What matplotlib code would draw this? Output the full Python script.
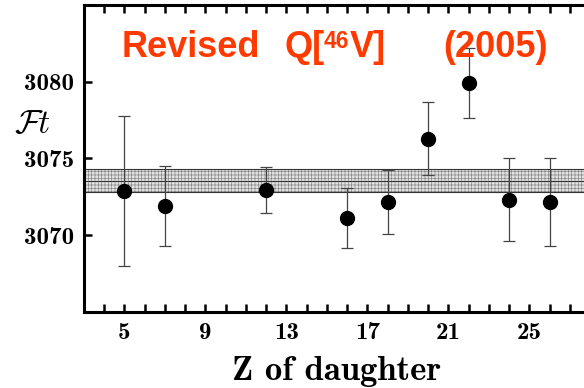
import numpy as np
import matplotlib
matplotlib.use('Agg')
import matplotlib.pyplot as plt

# Ft values per superallowed emitter, by Z of the daughter nucleus
z_daughter = [5, 7, 12, 16, 18, 20, 22, 24, 26]
ft_values = [3072.9, 3071.9, 3072.95, 3071.13, 3072.15, 3076.3, 3079.9, 3072.3, 3072.15]
ft_errors = [4.9, 2.6, 1.5, 1.95, 2.1, 2.37, 2.27, 2.7, 2.85]

# weighted average band
band_mean = 3073.56
band_low = 3072.82
band_high = 3074.33

x_ticks = [5, 9, 13, 17, 21, 25]
y_ticks = [3070, 3075, 3080]

plt.rcParams['hatch.linewidth'] = 0.4
plt.rcParams['hatch.color'] = '#7a7a7a'

fig = plt.figure(figsize=(5.84, 3.88), dpi=100)
ax = fig.add_axes([84 / 584, 76 / 388, 506 / 584, 307 / 388])

# shaded band for the average
ax.axhspan(band_low, band_high, facecolor='#e0e0e0', edgecolor='#7a7a7a',
           hatch='+++++', linewidth=0, zorder=1)
for yv in (band_low, band_mean, band_high):
    ax.axhline(yv, color='#333333', linewidth=0.8, zorder=2)

ax.errorbar(z_daughter, ft_values, yerr=ft_errors, fmt='o', color='black',
            markersize=10, ecolor='#444444', elinewidth=0.9, capsize=4,
            capthick=0.9, zorder=3)

ax.set_xlim(3, 28)
ax.set_ylim(3065, 3085)
ax.set_xticks(x_ticks)
ax.set_xticks(np.arange(3, 29), minor=True)
ax.set_yticks(y_ticks)

ax.tick_params(axis='both', which='both', direction='in', width=1.8, length=6,
               top=True, right=False, labelsize=18, pad=7)
for lab in ax.get_xticklabels() + ax.get_yticklabels():
    lab.set_fontfamily('cmb10')

for sp in ax.spines.values():
    sp.set_linewidth(2.2)

ax.set_xlabel('Z of daughter', fontfamily='cmb10', fontsize=25, labelpad=9)

fig.text(33 / 584, 1 - 123 / 388, r'$\mathcal{F}t$', fontsize=24,
         math_fontfamily='cm', ha='center', va='center')

# title pieces, "Revised  Q[46V]     (2005)"
red = '#ff3a00'
title_font = dict(color=red, fontfamily='Liberation Sans', fontweight='bold',
                  va='baseline')
fig.text(122 / 584, 1 - 57 / 388, 'Revised', fontsize=26, **title_font)
fig.text(285 / 584, 1 - 57 / 388, 'Q[', fontsize=26, **title_font)
fig.text(324 / 584, 1 - 48.5 / 388, '46', fontsize=16.5, **title_font)
fig.text(350 / 584, 1 - 57 / 388, 'V]', fontsize=26, **title_font)
fig.text(443 / 584, 1 - 57 / 388, '(2005)', fontsize=26, **title_font)

fig.savefig('out.png', dpi=100)
